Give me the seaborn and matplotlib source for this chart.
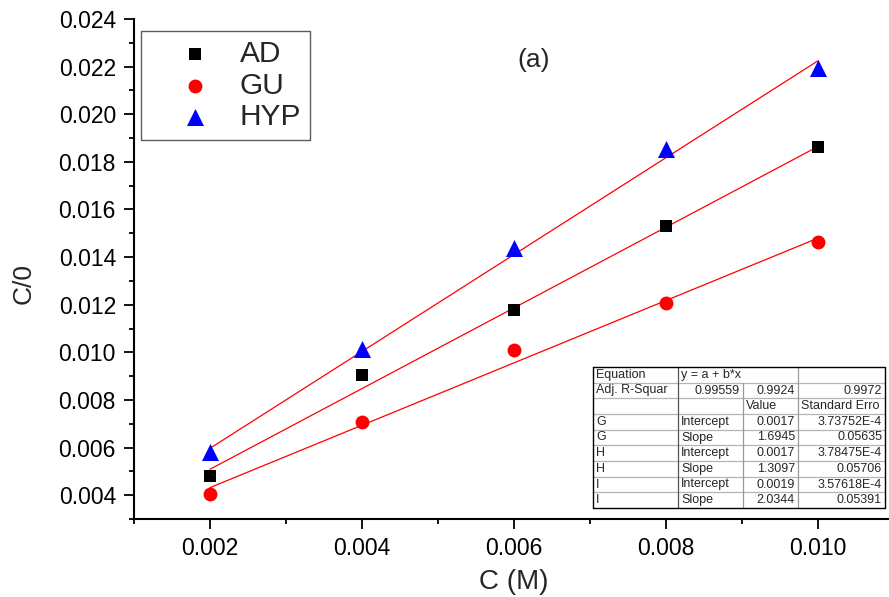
import numpy as np
import pandas as pd
import matplotlib
matplotlib.use("Agg")
import matplotlib.pyplot as plt
from matplotlib.lines import Line2D
from matplotlib.ticker import MultipleLocator, FormatStrFormatter
import seaborn as sns

# Concentrations (M)
conc = [0.002, 0.004, 0.006, 0.008, 0.010]

# C/theta values for each inhibitor
ad_vals = [0.00480, 0.00904, 0.01177, 0.01530, 0.01862]
gu_vals = [0.00404, 0.00707, 0.01010, 0.01207, 0.01463]
hyp_vals = [0.00581, 0.01013, 0.01438, 0.01854, 0.02194]

series_names = ["AD", "GU", "HYP"]
series_colors = ["black", "red", "blue"]
series_markers = ["s", "o", "^"]
marker_sizes = [85, 100, 150]

# Linear fit parameters (intercept a, slope b) in y = a + b*x
fit_intercepts = [0.0017, 0.0017, 0.0019]
fit_slopes = [1.6945, 1.3097, 2.0344]

# Fit summary table
table_rows = [
    ["Equation", "y = a + b*x", "", ""],
    ["Adj. R-Squar", "0.99559", "0.9924", "0.9972"],
    ["", "", "Value", "Standard Erro"],
    ["G", "Intercept", "0.0017", "3.73752E-4"],
    ["G", "Slope", "1.6945", "0.05635"],
    ["H", "Intercept", "0.0017", "3.78475E-4"],
    ["H", "Slope", "1.3097", "0.05706"],
    ["I", "Intercept", "0.0019", "3.57618E-4"],
    ["I", "Slope", "2.0344", "0.05391"],
]

sns.set_theme(style="ticks")
plt.rcParams["font.family"] = ["Liberation Sans", "DejaVu Sans"]

W, H = 889, 597
fig = plt.figure(figsize=(W / 100, H / 100), dpi=100)
# axes box in pixel units: left 134, right 894, top 19, bottom 519
AX_L, AX_R, AX_T, AX_B = 134, 894, 19, 519
ax = fig.add_axes([AX_L / W, (H - AX_B) / H, (AX_R - AX_L) / W, (AX_B - AX_T) / H])

df = pd.DataFrame({
    "C": conc * 3,
    "val": ad_vals + gu_vals + hyp_vals,
    "series": sum([[n] * len(conc) for n in series_names], []),
})

xfit = np.array([conc[0], conc[-1]])
for a, b in zip(fit_intercepts, fit_slopes):
    ax.plot(xfit, a + b * xfit, color="red", lw=0.9, zorder=2)

for name, col, mk, sz in zip(series_names, series_colors, series_markers, marker_sizes):
    sub = df[df["series"] == name]
    sns.scatterplot(data=sub, x="C", y="val", color=col, marker=mk, s=sz,
                    linewidth=0, ax=ax, label=name, zorder=3)

ax.set_xlim(0.001, 0.011)
ax.set_ylim(0.003, 0.024)
ax.xaxis.set_minor_locator(MultipleLocator(0.001))
ax.yaxis.set_minor_locator(MultipleLocator(0.001))
ax.xaxis.set_major_formatter(FormatStrFormatter("%.3f"))
ax.yaxis.set_major_formatter(FormatStrFormatter("%.3f"))
ax.set_xticks(np.arange(0.002, 0.0105, 0.002))
ax.set_yticks(np.arange(0.004, 0.0245, 0.002))

for side in ["top", "right"]:
    ax.spines[side].set_visible(False)
for side in ["left", "bottom"]:
    ax.spines[side].set_linewidth(1.5)
    ax.spines[side].set_color("black")

ax.tick_params(axis="both", which="major", direction="out", length=7, width=1.3,
               labelsize=16.5, colors="black", pad=6)
ax.tick_params(axis="both", which="minor", direction="out", length=3.5, width=1.3,
               colors="black")

ax.set_xlabel("C (M)", fontsize=20)
ax.xaxis.label.set_va("center")
ax.xaxis.set_label_coords(0.5, (AX_B - 582) / (AX_B - AX_T))
ax.set_ylabel("C/0", fontsize=19)
ax.yaxis.label.set_va("center")
ax.yaxis.set_label_coords((24 - AX_L) / (AX_R - AX_L), (AX_B - 284) / (AX_B - AX_T))

fig.text(534 / W, 1 - 60 / H, "(a)", fontsize=19, ha="center", va="center")

handles, labels = ax.get_legend_handles_labels()
leg = ax.legend(handles, labels, loc="upper left",
                bbox_to_anchor=(141 / W, 1 - 31 / H), bbox_transform=fig.transFigure,
                borderaxespad=0, fontsize=21.5, frameon=True, fancybox=False,
                handletextpad=0.0, borderpad=0.3, labelspacing=0.12,
                handlelength=3.0, markerscale=1.0)
leg.get_frame().set_edgecolor("#333333")
leg.get_frame().set_linewidth(1.0)

# Fit summary table drawn in pixel coordinates
col_x = [593, 678, 743, 798, 885]
row_top, row_bot = 367, 508
nrows = len(table_rows)
rh = (row_bot - row_top) / nrows


def fx(x):
    return x / W


def fy(y):
    return 1 - y / H


fig.patches.append(plt.Rectangle((fx(col_x[0]), fy(row_bot)),
                                 fx(col_x[-1]) - fx(col_x[0]), fy(row_top) - fy(row_bot),
                                 transform=fig.transFigure, facecolor="white",
                                 edgecolor="none", zorder=5))
for i in range(1, nrows):
    y = row_top + i * rh
    fig.add_artist(Line2D([fx(col_x[0]), fx(col_x[-1])], [fy(y), fy(y)],
                          color="#b5b5b5", lw=0.9, zorder=6))
for j, x in enumerate(col_x[1:-1], start=1):
    y0 = row_top + (rh if j == 2 else 0)
    fig.add_artist(Line2D([fx(x), fx(x)], [fy(y0), fy(row_bot)],
                          color="#555555" if j == 1 else "#9a9a9a", lw=0.9, zorder=6))
fig.add_artist(Line2D([fx(col_x[0]), fx(col_x[-1]), fx(col_x[-1]), fx(col_x[0]), fx(col_x[0])],
                      [fy(row_top), fy(row_top), fy(row_bot), fy(row_bot), fy(row_top)],
                      color="black", lw=1.0, zorder=7))

tfs = 9.0
for i, row in enumerate(table_rows):
    yc = fy(row_top + (i + 0.5) * rh)
    for j, txt in enumerate(row):
        if not txt:
            continue
        left, right = col_x[j], col_x[j + 1]
        if txt[0].isdigit():
            fig.text(fx(right - 3), yc, txt, ha="right", va="center", fontsize=tfs, zorder=8)
        else:
            fig.text(fx(left + 3), yc, txt, ha="left", va="center", fontsize=tfs, zorder=8)

fig.savefig("out.png", dpi=100)
